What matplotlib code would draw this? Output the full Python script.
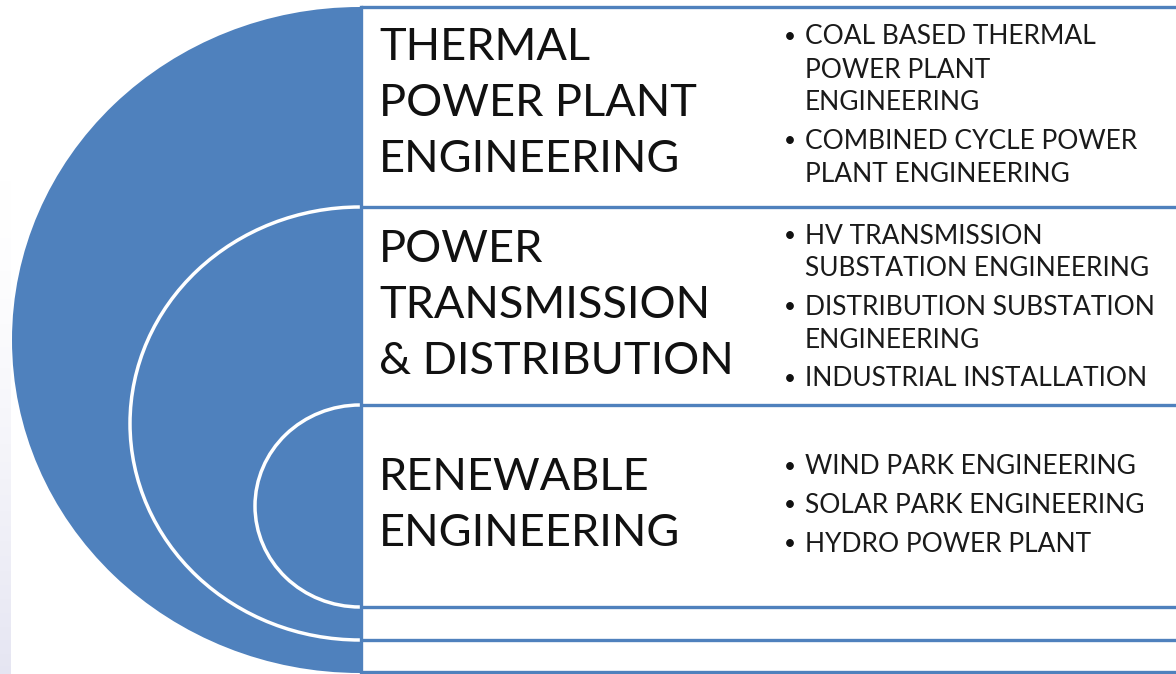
import numpy as np
import matplotlib.pyplot as plt
from matplotlib.patches import Ellipse, Arc, Rectangle

# data: section titles and their bullet items
titles = [
    ["THERMAL", "POWER PLANT", "ENGINEERING"],
    ["POWER", "TRANSMISSION", "& DISTRIBUTION"],
    ["RENEWABLE", "ENGINEERING"],
]
bullets = [
    [["COAL BASED THERMAL", "POWER PLANT", "ENGINEERING"],
     ["COMBINED CYCLE POWER", "PLANT ENGINEERING"]],
    [["HV TRANSMISSION", "SUBSTATION ENGINEERING"],
     ["DISTRIBUTION SUBSTATION", "ENGINEERING"],
     ["INDUSTRIAL INSTALLATION"]],
    [["WIND PARK ENGINEERING"],
     ["SOLAR PARK ENGINEERING"],
     ["HYDRO POWER PLANT"]],
]

# layout (pixels)
W, H = 1176, 674
blue = "#4f81bd"
box_x = 361
lines_y = [7, 207, 405, 607, 640, 672]
title_y0 = [47, 250, 478]
title_dy = 56
bullet_y0 = [37, 236, 467]
bullet_dy = 33
bullet_gap = 38.5  # spacing between bullets

fig = plt.figure(figsize=(W / 100, H / 100), dpi=100)
ax = fig.add_axes([0, 0, 1, 1])
ax.set_xlim(0, W)
ax.set_ylim(H, 0)
ax.axis("off")

# faint gradient strip on the far left
grad = np.linspace(0, 1, 200).reshape(-1, 1) ** 1.5
strip = np.ones((200, 1, 3))
strip = strip * (1 - grad[..., None] * 0.1) - grad[..., None] * np.array([0.0, 0.0, -0.05])
ax.imshow(np.clip(strip, 0, 1), extent=[0, 11, H, 180], aspect="auto", zorder=0)

# big blue half disc and the white nested arcs
ax.add_patch(Ellipse((360, 340), 2 * 348, 2 * 333, color=blue, zorder=1, lw=0))
ax.add_patch(Arc((360, 423.5), 2 * 230, 640 - 207, theta1=90, theta2=270,
                 color="white", lw=2.5, zorder=2))
ax.add_patch(Arc((360, 506), 2 * 105, 607 - 405, theta1=90, theta2=270,
                 color="white", lw=2.5, zorder=2))

# white boxes on the right
ax.add_patch(Rectangle((box_x, lines_y[0]), W - box_x, lines_y[-1] - lines_y[0],
                       facecolor="white", edgecolor="none", zorder=3))
for y in lines_y:
    ax.plot([box_x, W], [y, y], color=blue, lw=2.4, zorder=4, solid_capstyle="butt")
ax.plot([box_x, box_x], [lines_y[0], lines_y[-1]], color=blue, lw=2.4, zorder=4)

fam = ["Lato", "DejaVu Sans"]
for i in range(3):
    for j, t in enumerate(titles[i]):
        ax.text(379, title_y0[i] + j * title_dy, t, fontsize=32.5, family=fam,
                va="center", ha="left", color="#111111", zorder=5)
    y = bullet_y0[i]
    for item in bullets[i]:
        ax.text(790, y, "\u2022", fontsize=15, family=fam, va="center",
                ha="center", color="#111111", zorder=5)
        for k, line in enumerate(item):
            ax.text(805, y + k * bullet_dy, line, fontsize=19, family=fam,
                    va="center", ha="left", color="#1a1a1a", zorder=5)
        y += (len(item) - 1) * bullet_dy + bullet_gap

fig.savefig("out.png", dpi=100)
